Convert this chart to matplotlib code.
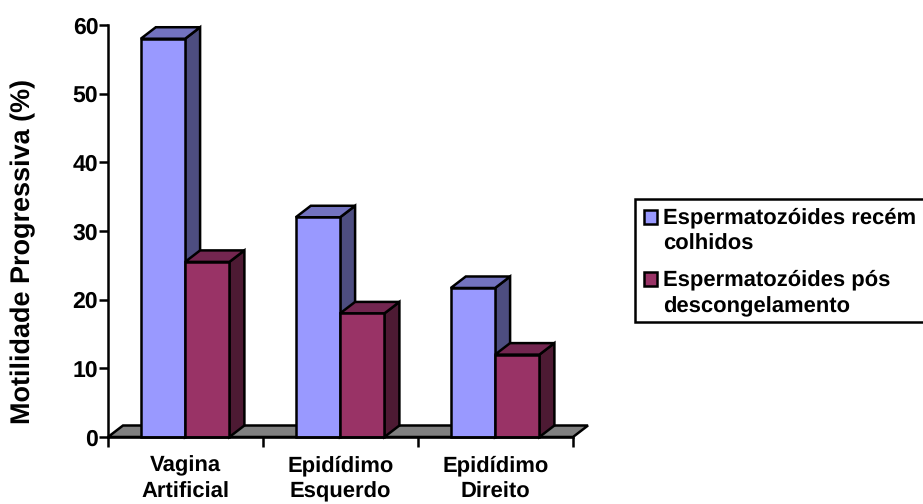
import matplotlib
matplotlib.use('Agg')
import matplotlib.pyplot as plt
from matplotlib.patches import Polygon, Rectangle

plt.rcParams['font.family'] = ['Liberation Sans', 'DejaVu Sans']
plt.rcParams['font.weight'] = 'bold'
plt.rcParams['text.hinting'] = 'no_hinting'
plt.rcParams['text.hinting_factor'] = 1

categories = ['Vagina\nArtificial', 'Epidídimo\nEsquerdo', 'Epidídimo\nDireito']
series_names = ['Espermatozóides recém\ncolhidos', 'Espermatozóides pós\ndescongelamento']
recem_colhidos = [58, 32, 21.7]
pos_descongelamento = [25.5, 18, 12]
yticks = [0, 10, 20, 30, 40, 50, 60]

W, H = 923, 504
fig = plt.figure(figsize=(W / 100, H / 100), dpi=100)

# plot area in pixels, y axis at x=108, 0 at y=437, 60 at y=25
left, right, top, bottom = 108, 573, 25, 437
ax = fig.add_axes([left / W, 1 - bottom / H, (right - left) / W, (bottom - top) / H])
ax.set_xlim(0, 3)
ax.set_ylim(0, 60)
ax.patch.set_visible(False)

# 3d depth offset, converted to data units
dx = 15 / ((right - left) / 3)
dy = 11.5 / ((bottom - top) / 60)
bar_w = 44.3 / ((right - left) / 3)
edge = 'black'
lw = 1.8


def draw_bar(x, h, front, side, roof):
    ax.add_patch(Polygon([(x + bar_w, 0), (x + bar_w + dx, dy), (x + bar_w + dx, h + dy), (x + bar_w, h)],
                         facecolor=side, edgecolor=edge, lw=lw, clip_on=False, joinstyle='miter'))
    ax.add_patch(Polygon([(x, h), (x + dx, h + dy), (x + bar_w + dx, h + dy), (x + bar_w, h)],
                         facecolor=roof, edgecolor=edge, lw=lw, clip_on=False, joinstyle='miter'))
    ax.add_patch(Rectangle((x, 0), bar_w, h, facecolor=front, edgecolor=edge, lw=lw, clip_on=False,
                           joinstyle='miter'))


# floor
ax.add_patch(Polygon([(0, 0), (dx, dy), (3 + dx, dy), (3, 0)], facecolor='#808080', edgecolor=edge,
                     lw=lw, clip_on=False, joinstyle='miter'))

for i in range(3):
    x0 = i + 32.8 / 155
    draw_bar(x0, recem_colhidos[i], '#9999FF', '#4D4D80', '#7373BF')
    draw_bar(x0 + bar_w, pos_descongelamento[i], '#993366', '#4D1A33', '#732650')

for s in ['top', 'right']:
    ax.spines[s].set_visible(False)
for s in ['left', 'bottom']:
    ax.spines[s].set_linewidth(lw)

ax.set_yticks(yticks)
ax.set_xticks([0, 1, 2, 3])
ax.set_xticklabels([])
ax.tick_params(axis='y', length=6.5, width=lw, labelsize=16.5, pad=0.5)
ax.tick_params(axis='x', length=7, width=lw)
for i, c in enumerate(categories):
    ax.text(i + 0.5, -2.65, c, ha='center', va='top', fontsize=16.2, fontweight='bold', linespacing=1.38)
ax.set_ylabel('Motilidade Progressiva (%)', fontsize=19.2, fontweight='bold')
ax.yaxis.set_label_coords((23 - left) / (right - left), 0.451)
ax.yaxis.label.set_verticalalignment('center')


# legend box runs off the right edge
def px(x, y):
    return x / W, 1 - y / H


fig.add_artist(Rectangle(px(635, 322), (W - 635 + 5) / W, 123 / H, transform=fig.transFigure,
                         facecolor='white', edgecolor='black', lw=lw))
colors = ['#9999FF', '#993366']
for name, col, y in zip(series_names, colors, [217, 279]):
    fig.add_artist(Rectangle(px(643.5, y + 7), 13.5 / W, 14 / H, transform=fig.transFigure,
                             facecolor=col, edgecolor='black', lw=lw))
    fig.text(663 / W, 1 - (y - 10) / H, name, ha='left', va='top', fontsize=16.05, fontweight='bold',
             linespacing=1.4)

fig.savefig('out.png', dpi=100)
